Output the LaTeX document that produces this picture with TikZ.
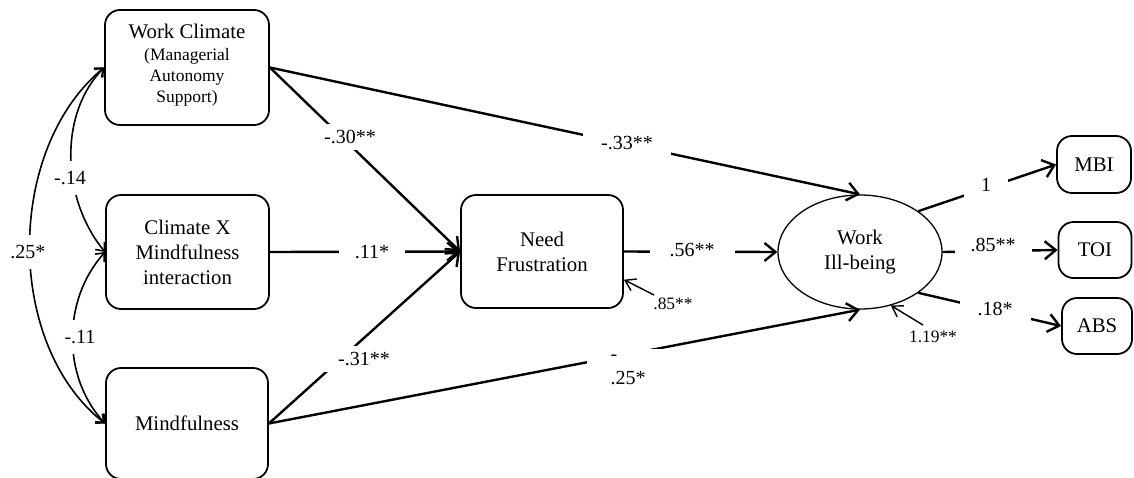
\documentclass[tikz,border=0pt]{standalone}
\usepackage{fontspec}
\setmainfont{Liberation Serif}
\usetikzlibrary{arrows.meta,shapes.geometric}
\newcommand\smtxt{\fontsize{8.75}{10.5}\selectfont}
\begin{document}
\begin{tikzpicture}[x=0.5pt,y=-0.5pt,
 box/.style={draw, line width=0.9pt, rounded corners=7.5pt, align=center, font=\fontsize{10.4}{12.5}\selectfont, inner sep=0pt},
 conn/.style={line width=1.2pt, -{Straight Barb[length=5.5pt,width=9pt]}},
 corr/.style={line width=0.8pt, {Straight Barb[length=3.5pt,width=6pt]}-{Straight Barb[length=3.5pt,width=6pt]}},
 resid/.style={line width=0.7pt, -{Straight Barb[length=5pt,width=6.5pt]}},
 lab/.style={fill=white, font=\fontsize{10}{12}\selectfont, inner xsep=8pt, inner ysep=3pt},
 clab/.style={fill=white, font=\fontsize{10}{12}\selectfont, inner xsep=1pt, inner ysep=5pt},
 slab/.style={font=\fontsize{8.7}{10}\selectfont, inner sep=0pt}]
\useasboundingbox (0,0) rectangle (1134,477);
% nodes
\node[box, minimum width=82pt, minimum height=57.5pt] (wc) at (187,67.5)
  {Work Climate\\[-1.5pt]\smtxt (Managerial\\[-2pt]\smtxt Autonomy\\[-2pt]\smtxt Support)\rule[-4pt]{0pt}{4pt}};
\node[box, minimum width=81.5pt, minimum height=57pt] (cx) at (187.5,252)
  {Climate X\\Mindfulness\\interaction};
\node[box, minimum width=81pt, minimum height=55.5pt] (mf) at (187,423.5) {Mindfulness};
\node[box, minimum width=81pt, minimum height=56.5pt] (nf) at (542,251.5) {Need\\Frustration};
\node[box, ellipse, rounded corners=0pt, line width=0.65pt, minimum width=82pt, minimum height=57pt] (wib) at (860,252) {Work\\Ill-being};
\node[box, minimum width=37pt, minimum height=28.5pt] (mbi) at (1094,164.5) {MBI};
\node[box, minimum width=36.5pt, minimum height=28pt] (toi) at (1095,250) {TOI};
\node[box, minimum width=35pt, minimum height=28pt] (abs) at (1097,326) {ABS};
% structural paths
\draw[conn] (wc.east) -- (wib.north);
\draw[conn] (wc.east) -- (nf.west);
\draw[conn] (cx.east) -- (nf.west);
\draw[conn] (mf.east) -- (nf.west);
\draw[conn] (mf.east) -- (wib.south);
\draw[conn] (nf.east) -- (wib.west);
\draw[conn] (wib.35) -- (mbi.west);
\draw[conn] (wib.east) -- (toi.west);
\draw[conn] (wib.-35) -- (abs.west);
% path labels
\node[lab, inner xsep=9pt] (l33) at (627,143) {-.33**};
\node[lab] (l30) at (350,137) {-.30**};
\node[lab] (l11) at (372,252) {.11*};
\node[lab] (l31) at (364,359) {-.31**};
\node[lab, align=left, inner xsep=12pt, inner ysep=3pt] (l25) at (628,370) {-\\.25*};
\node[lab, inner xsep=10pt] (l56) at (692,250) {.56**};
\node[lab, inner xsep=8.5pt, inner ysep=4pt] (l1) at (986,185) {1};
\node[lab] (l85) at (993,245) {.85**};
\node[lab, inner xsep=9pt] (l18) at (995,309) {.18*};
% correlations
\draw[corr] (wc.west) .. controls (58,115) and (62,200) .. (cx.west);
\draw[corr] (cx.west) .. controls (62,300) and (62,377) .. (mf.west);
\draw[corr] (wc.west) .. controls (5,150) and (5,345) .. (mf.west);
\node[clab] (c14) at (70,178) {-.14};
\node[clab] (c11) at (80,337) {-.11};
\node[clab] (c25) at (28,252) {.25*};
% residuals
\coordinate (r1) at (654,295);
\draw[resid] (r1) -- (nf.-19);
\node[slab] (e1) at (673,304) {.85**};
\coordinate (r2) at (923,325);
\draw[resid] (r2) -- (wib.-60);
\node[slab] (e2) at (933,337) {1.19**};
\end{tikzpicture}
\end{document}
